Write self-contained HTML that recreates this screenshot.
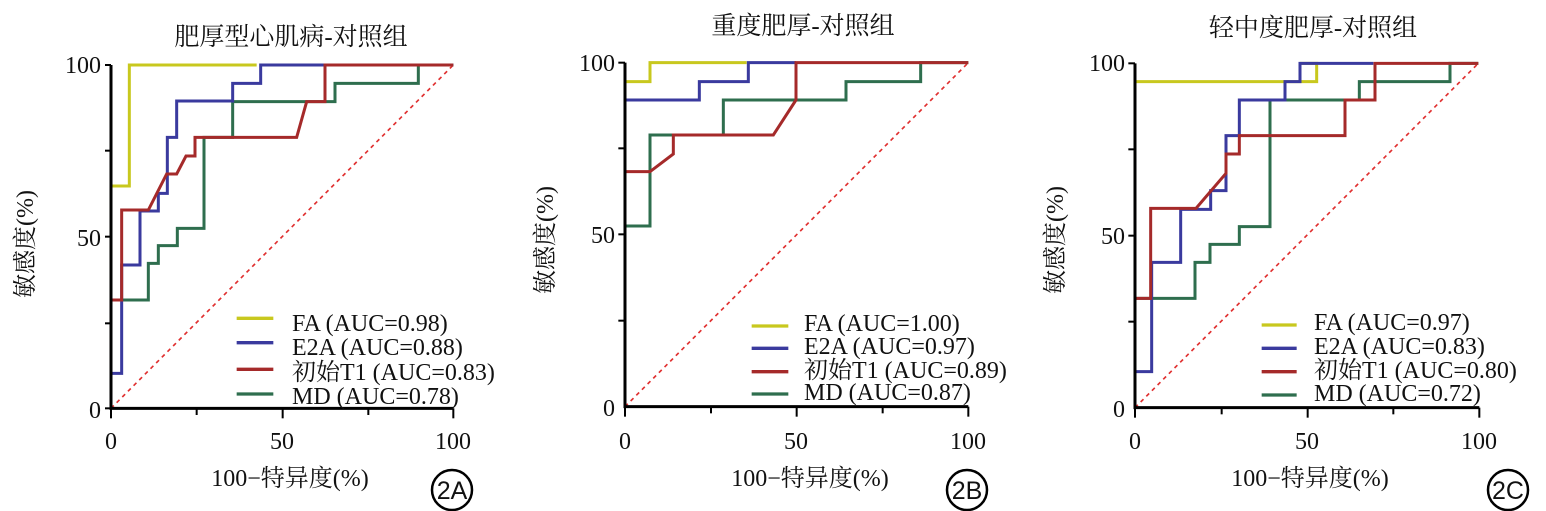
<!DOCTYPE html>
<html><head><meta charset="utf-8"><style>
html,body{margin:0;padding:0;background:#fff;}
svg{display:block;}
text{font-family:"Liberation Serif","Noto Serif CJK SC","Noto Sans CJK SC",serif;fill:#111;}
.c{font-family:"Liberation Sans","Noto Sans CJK SC",sans-serif;}
</style></head><body>
<svg width="1546" height="511" viewBox="0 0 1546 511" xmlns="http://www.w3.org/2000/svg">
<g fill="none" stroke-linejoin="miter">
<!-- Panel A -->
<g transform="translate(90,50) scale(0.33333)" stroke-width="9">
<line x1="63" y1="1075" x2="1090" y2="45" stroke="#e03030" stroke-width="5" stroke-dasharray="12,12"/>
<polyline stroke="#c8c81e" points="63,1075 63,408 118,408 118,45 500,45"/>
<polyline stroke="#2e6e4e" points="63,750 175,750 175,640 205,640 205,587 262,587 262,535 342,535 342,262 428,262 428,155 735,155 735,100 985,100 985,45 1090,45"/>
<polyline stroke="#3a3a9e" points="63,1075 63,970 95,970 95,645 150,645 150,483 205,483 205,430 232,430 232,262 260,262 260,153 428,153 428,100 512,100 512,45 1090,45"/>
<polyline stroke="#a52a2a" points="63,1075 63,750 95,750 95,480 175,480 230,372 260,372 288,318 315,318 315,262 620,262 650,155 705,155 705,45 1090,45"/>
<polyline stroke="#000" stroke-width="9" points="63,45 63,1075 1090,1075"/>
<g stroke="#000" stroke-width="6">
<line x1="45" y1="45" x2="63" y2="45"/><line x1="45" y1="302" x2="63" y2="302"/><line x1="45" y1="560" x2="63" y2="560"/><line x1="45" y1="820" x2="63" y2="820"/><line x1="45" y1="1075" x2="63" y2="1075"/>
<line x1="63" y1="1075" x2="63" y2="1105"/><line x1="320" y1="1075" x2="320" y2="1095"/><line x1="578" y1="1075" x2="578" y2="1105"/><line x1="835" y1="1075" x2="835" y2="1095"/><line x1="1090" y1="1075" x2="1090" y2="1105"/>
</g>
<line x1="440" y1="805" x2="550" y2="805" stroke="#c8c81e" stroke-width="10"/>
<line x1="440" y1="878" x2="550" y2="878" stroke="#3a3a9e" stroke-width="10"/>
<line x1="440" y1="958" x2="550" y2="958" stroke="#a52a2a" stroke-width="10"/>
<line x1="440" y1="1032" x2="550" y2="1032" stroke="#2e6e4e" stroke-width="10"/>
</g>
<!-- Panel B -->
<g transform="translate(610,50) scale(0.33333)" stroke-width="9">
<line x1="45" y1="1070" x2="1075" y2="38" stroke="#e03030" stroke-width="5" stroke-dasharray="12,12"/>
<polyline stroke="#c8c81e" points="45,1070 45,95 120,95 120,38 410,38"/>
<polyline stroke="#2e6e4e" points="45,528 120,528 120,255 340,255 340,150 708,150 708,95 932,95 932,38 1075,38"/>
<polyline stroke="#3a3a9e" points="45,1070 45,150 268,150 268,95 415,95 415,38 558,38"/>
<polyline stroke="#a52a2a" points="45,1070 45,365 120,365 190,312 190,255 490,255 558,150 558,38 1075,38"/>
<polyline stroke="#000" points="45,38 45,1070 1075,1070"/>
<g stroke="#000" stroke-width="6">
<line x1="25" y1="38" x2="45" y2="38"/><line x1="25" y1="295" x2="45" y2="295"/><line x1="25" y1="553" x2="45" y2="553"/><line x1="25" y1="812" x2="45" y2="812"/>
<line x1="45" y1="1070" x2="45" y2="1100"/><line x1="303" y1="1070" x2="303" y2="1090"/><line x1="560" y1="1070" x2="560" y2="1100"/><line x1="818" y1="1070" x2="818" y2="1090"/><line x1="1075" y1="1070" x2="1075" y2="1100"/>
</g>
<line x1="425" y1="828" x2="535" y2="828" stroke="#c8c81e" stroke-width="10"/>
<line x1="425" y1="895" x2="535" y2="895" stroke="#3a3a9e" stroke-width="10"/>
<line x1="425" y1="965" x2="535" y2="965" stroke="#a52a2a" stroke-width="10"/>
<line x1="425" y1="1032" x2="535" y2="1032" stroke="#2e6e4e" stroke-width="10"/>
</g>
<!-- Panel C -->
<g transform="translate(1120,50) scale(0.33333)" stroke-width="9">
<line x1="45" y1="1073" x2="1075" y2="40" stroke="#e03030" stroke-width="5" stroke-dasharray="12,12"/>
<polyline stroke="#c8c81e" points="45,1073 45,95 590,95 590,40 540,40"/>
<polyline stroke="#2e6e4e" points="45,745 225,745 225,637 270,637 270,583 358,583 358,530 450,530 450,150 718,150 718,95 990,95 990,40 1075,40"/>
<polyline stroke="#3a3a9e" points="45,1073 45,965 95,965 95,637 182,637 182,478 272,478 272,422 318,422 318,257 358,257 358,150 495,150 495,95 540,95 540,40 760,40"/>
<polyline stroke="#a52a2a" points="45,1073 45,745 92,745 92,475 228,475 318,370 318,312 358,312 358,257 675,257 675,150 765,150 765,40 1075,40"/>
<polyline stroke="#000" points="45,40 45,1073 1078,1073"/>
<g stroke="#000" stroke-width="6">
<line x1="25" y1="40" x2="45" y2="40"/><line x1="25" y1="298" x2="45" y2="298"/><line x1="25" y1="557" x2="45" y2="557"/><line x1="25" y1="815" x2="45" y2="815"/>
<line x1="45" y1="1073" x2="45" y2="1103"/><line x1="305" y1="1073" x2="305" y2="1093"/><line x1="563" y1="1073" x2="563" y2="1103"/><line x1="820" y1="1073" x2="820" y2="1093"/><line x1="1078" y1="1073" x2="1078" y2="1103"/>
</g>
<line x1="425" y1="825" x2="530" y2="825" stroke="#c8c81e" stroke-width="10"/>
<line x1="425" y1="895" x2="530" y2="895" stroke="#3a3a9e" stroke-width="10"/>
<line x1="425" y1="965" x2="530" y2="965" stroke="#a52a2a" stroke-width="10"/>
<line x1="425" y1="1035" x2="530" y2="1035" stroke="#2e6e4e" stroke-width="10"/>
</g>
</g>

<!-- Panel A text -->
<g font-size="24">
<text x="291" y="45" text-anchor="middle" font-size="25">肥厚型心肌病-对照组</text>
<text x="101" y="73" text-anchor="end">100</text>
<text x="101" y="246" text-anchor="end">50</text>
<text x="101" y="418" text-anchor="end">0</text>
<text x="111" y="449" text-anchor="middle">0</text>
<text x="282" y="449" text-anchor="middle">50</text>
<text x="453" y="449" text-anchor="middle">100</text>
<text x="290" y="486" text-anchor="middle">100−特异度(%)</text>
<text transform="translate(33,244) rotate(-90)" text-anchor="middle">敏感度(%)</text>
<text x="292" y="331">FA (AUC=0.98)</text>
<text x="292" y="355">E2A (AUC=0.88)</text>
<text x="292" y="380">初始T1 (AUC=0.83)</text>
<text x="292" y="404">MD (AUC=0.78)</text>
</g>
<circle cx="452" cy="490" r="20" fill="none" stroke="#000" stroke-width="2.5"/>
<text x="452" y="499" text-anchor="middle" class="c" font-size="25">2A</text>

<!-- Panel B text -->
<g font-size="24">
<text x="803" y="34" text-anchor="middle" font-size="25">重度肥厚-对照组</text>
<text x="615" y="71" text-anchor="end">100</text>
<text x="615" y="243" text-anchor="end">50</text>
<text x="615" y="416" text-anchor="end">0</text>
<text x="625" y="449" text-anchor="middle">0</text>
<text x="796" y="449" text-anchor="middle">50</text>
<text x="968" y="449" text-anchor="middle">100</text>
<text x="810" y="486" text-anchor="middle">100−特异度(%)</text>
<text transform="translate(553,240) rotate(-90)" text-anchor="middle">敏感度(%)</text>
<text x="804" y="331">FA (AUC=1.00)</text>
<text x="804" y="354">E2A (AUC=0.97)</text>
<text x="804" y="378">初始T1 (AUC=0.89)</text>
<text x="804" y="400">MD (AUC=0.87)</text>
</g>
<circle cx="967" cy="490" r="20" fill="none" stroke="#000" stroke-width="2.5"/>
<text x="967" y="499" text-anchor="middle" class="c" font-size="25">2B</text>

<!-- Panel C text -->
<g font-size="24">
<text x="1313" y="36" text-anchor="middle" font-size="25">轻中度肥厚-对照组</text>
<text x="1125" y="71" text-anchor="end">100</text>
<text x="1125" y="244" text-anchor="end">50</text>
<text x="1125" y="417" text-anchor="end">0</text>
<text x="1135" y="449" text-anchor="middle">0</text>
<text x="1307" y="449" text-anchor="middle">50</text>
<text x="1479" y="449" text-anchor="middle">100</text>
<text x="1310" y="486" text-anchor="middle">100−特异度(%)</text>
<text transform="translate(1063,240) rotate(-90)" text-anchor="middle">敏感度(%)</text>
<text x="1314" y="330">FA (AUC=0.97)</text>
<text x="1314" y="354">E2A (AUC=0.83)</text>
<text x="1314" y="378">初始T1 (AUC=0.80)</text>
<text x="1314" y="401">MD (AUC=0.72)</text>
</g>
<circle cx="1508" cy="490" r="20" fill="none" stroke="#000" stroke-width="2.5"/>
<text x="1508" y="499" text-anchor="middle" class="c" font-size="25">2C</text>
</svg>
</body></html>
